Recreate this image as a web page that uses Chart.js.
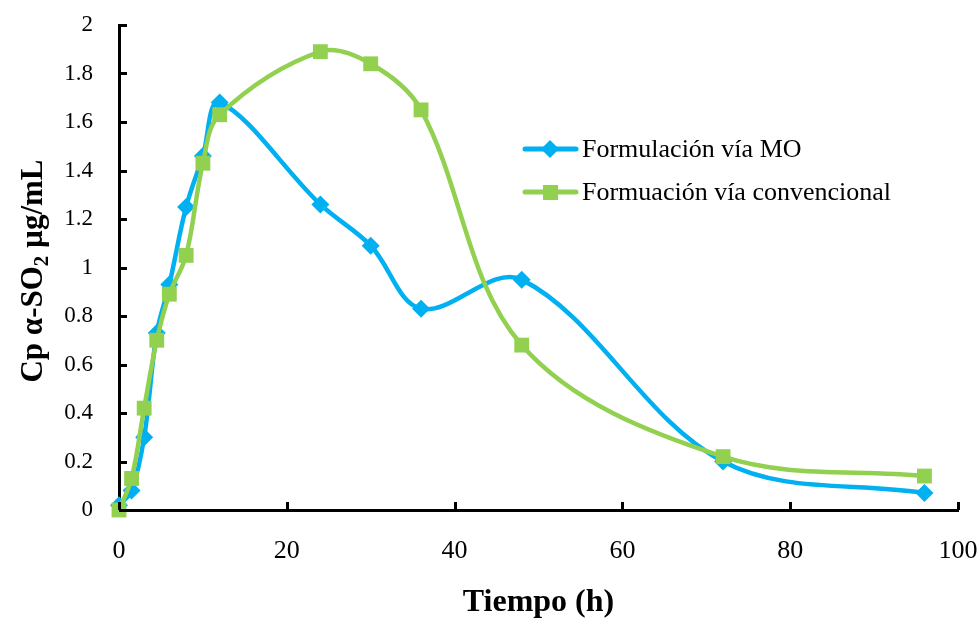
<!DOCTYPE html>
<html>
<head>
<meta charset="utf-8">
<script src="https://cdn.jsdelivr.net/npm/chart.js@4"></script>
<style>
  html, body { margin: 0; padding: 0; background: #fff; }
  #wrap { width: 979px; height: 622px; }
</style>
</head>
<body>
<div id="wrap"><canvas id="cpChart" width="979" height="622"></canvas></div>
<script>
// sampling times (h) and plasma concentration for each formulation
const hours = [0, 1.5, 3, 4.5, 6, 8, 10, 12, 24, 30, 36, 48, 72, 96];
const viaMO = [0.02, 0.08, 0.30, 0.73, 0.93, 1.25, 1.46, 1.68, 1.26, 1.09, 0.83, 0.95, 0.20, 0.07];
const viaConvencional = [0, 0.13, 0.42, 0.70, 0.89, 1.05, 1.43, 1.63, 1.89, 1.84, 1.65, 0.68, 0.22, 0.14];

const seriesNames = ['Formulación vía MO', 'Formuación vía convencional'];
const xTicks = [0, 20, 40, 60, 80, 100];
const yTicks = [0, 0.2, 0.4, 0.6, 0.8, 1, 1.2, 1.4, 1.6, 1.8, 2];

const BLUE = '#00B0F0';
const GREEN = '#92D050';
const SERIF = '"Liberation Serif", "DejaVu Serif", serif';

function toPoints(ys) {
    return hours.map((h, i) => ({ x: h, y: ys[i] }));
}

// ticks point inward, like the original spreadsheet chart
const innerTicks = {
    id: 'innerTicks',
    afterDraw(chart) {
        const ctx = chart.ctx;
        const { left, bottom } = chart.chartArea;
        const xs = chart.scales.x, ys = chart.scales.y;
        ctx.save();
        ctx.strokeStyle = '#000';
        ctx.lineWidth = 3;
        yTicks.forEach(v => {
            const py = Math.round(ys.getPixelForValue(v)) + 0.5;
            ctx.beginPath();
            ctx.moveTo(left, py);
            ctx.lineTo(left + 8, py);
            ctx.stroke();
        });
        xTicks.forEach(v => {
            const px = Math.round(xs.getPixelForValue(v)) + 0.5;
            ctx.beginPath();
            ctx.moveTo(px, bottom);
            ctx.lineTo(px, bottom - 8);
            ctx.stroke();
        });
        ctx.restore();
    }
};

// axis titles (the y title needs a real subscript)
const axisTitles = {
    id: 'axisTitles',
    afterDraw(chart) {
        const ctx = chart.ctx;
        const { left, right } = chart.chartArea;
        ctx.save();
        ctx.fillStyle = '#000';
        ctx.font = 'bold 32px ' + SERIF;
        ctx.textAlign = 'center';
        ctx.textBaseline = 'alphabetic';
        ctx.fillText('Tiempo (h)', (left + right) / 2, 611);

        const mainFont = 'bold 31px ' + SERIF;
        const subFont = 'bold 21px ' + SERIF;
        const parts = [
            { t: 'Cp α-SO', f: mainFont, dy: 0 },
            { t: '2', f: subFont, dy: 6 },
            { t: ' µg/mL', f: mainFont, dy: 0 }
        ];
        let total = 0;
        parts.forEach(p => { ctx.font = p.f; p.w = ctx.measureText(p.t).width; total += p.w; });
        ctx.translate(42, 271);
        ctx.rotate(-Math.PI / 2);
        ctx.textAlign = 'left';
        let x = -total / 2;
        parts.forEach(p => {
            ctx.font = p.f;
            ctx.fillText(p.t, x, p.dy);
            x += p.w;
        });
        ctx.restore();
    }
};

// legend drawn inside the plot, to the right of the peaks
const innerLegend = {
    id: 'innerLegend',
    afterDraw(chart) {
        const ctx = chart.ctx;
        const rows = [
            { y: 149, color: BLUE, shape: 'diamond' },
            { y: 192, color: GREEN, shape: 'square' }
        ];
        ctx.save();
        rows.forEach((r, i) => {
            ctx.strokeStyle = r.color;
            ctx.fillStyle = r.color;
            ctx.lineWidth = 5;
            ctx.lineCap = 'round';
            ctx.beginPath();
            ctx.moveTo(525, r.y);
            ctx.lineTo(576, r.y);
            ctx.stroke();
            ctx.beginPath();
            if (r.shape === 'diamond') {
                ctx.moveTo(550, r.y - 9);
                ctx.lineTo(559, r.y);
                ctx.lineTo(550, r.y + 9);
                ctx.lineTo(541, r.y);
                ctx.closePath();
                ctx.fill();
            } else {
                ctx.fillRect(543, r.y - 7, 15, 15);
            }
            ctx.fillStyle = '#000';
            ctx.font = '26px ' + SERIF;
            ctx.textAlign = 'left';
            ctx.textBaseline = 'middle';
            ctx.fillText(seriesNames[i], 582, r.y + 1);
        });
        ctx.restore();
    }
};

new Chart(document.getElementById('cpChart'), {
    type: 'line',
    data: {
        datasets: [
            {
                label: seriesNames[0],
                data: toPoints(viaMO),
                borderColor: BLUE,
                backgroundColor: BLUE,
                borderWidth: 4.5,
                pointStyle: 'rectRot',
                pointRadius: 9,
                pointBorderWidth: 0,
                tension: 0.35,
                clip: false,
                order: 2
            },
            {
                label: seriesNames[1],
                data: toPoints(viaConvencional),
                borderColor: GREEN,
                backgroundColor: GREEN,
                borderWidth: 4.5,
                pointStyle: 'rect',
                pointRadius: 10.5,
                pointBorderWidth: 0,
                tension: 0.35,
                clip: false,
                order: 1
            }
        ]
    },
    options: {
        responsive: false,
        animation: false,
        layout: { padding: { top: 25, right: 21, left: 0, bottom: 0 } },
        plugins: {
            legend: { display: false },
            tooltip: { enabled: false }
        },
        scales: {
            x: {
                type: 'linear',
                min: 0,
                max: 100,
                afterBuildTicks: s => { s.ticks = xTicks.map(v => ({ value: v })); },
                afterFit: s => { s.height = 112; s.paddingLeft = 0; s.paddingRight = 0; },
                grid: { drawOnChartArea: false, drawTicks: false },
                border: { display: true, color: '#000', width: 3 },
                ticks: {
                    color: '#000',
                    padding: 26,
                    font: { family: SERIF, size: 26 },
                    maxRotation: 0
                }
            },
            y: {
                min: 0,
                max: 2,
                afterBuildTicks: s => { s.ticks = yTicks.map(v => ({ value: v })); },
                afterFit: s => { s.width = 119; s.paddingTop = 0; s.paddingBottom = 0; },
                grid: { drawOnChartArea: false, drawTicks: false },
                border: { display: true, color: '#000', width: 3 },
                ticks: {
                    color: '#000',
                    padding: 26,
                    font: { family: SERIF, size: 23 },
                    callback: v => String(+v.toFixed(1))
                }
            }
        }
    },
    plugins: [innerTicks, axisTitles, innerLegend]
});
</script>
</body>
</html>
